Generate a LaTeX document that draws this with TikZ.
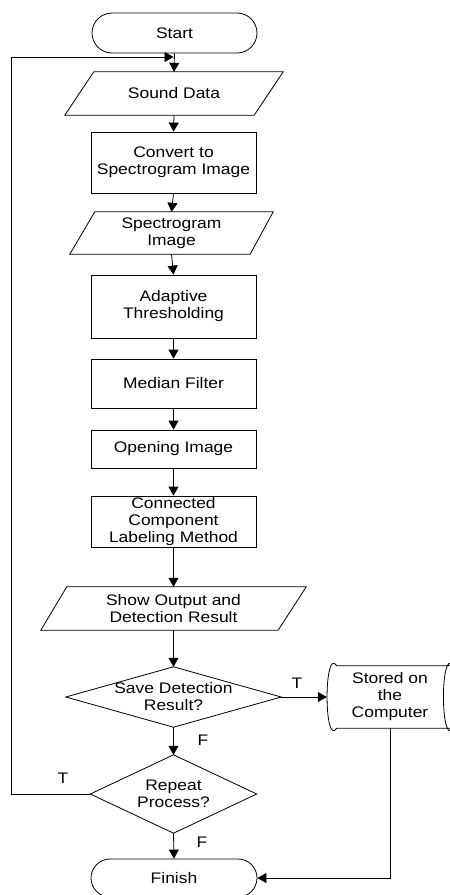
\documentclass[tikz,border=0pt]{standalone}
\usepackage{fontspec}
\setmainfont{Liberation Sans}[FakeStretch=1.14]
\usetikzlibrary{arrows.meta,shapes.misc}
\begin{document}
\begin{tikzpicture}[x=1pt,y=-1pt,
  font=\fontsize{15.3}{17}\selectfont,
  ln/.style={line width=0.8pt},
  arr/.style={ln,-{Triangle[length=9pt,width=10pt]}},
  procbox/.style={draw,ln,minimum width=165pt,inner sep=0pt,align=center},
  blank/.style={inner sep=0pt,align=center},
  term/.style={draw,ln,rounded rectangle,minimum width=165pt,inner sep=0pt,align=center},
  lbl/.style={inner sep=0pt}]
\useasboundingbox (0,0) rectangle (450,895);
\clip (0,0) rectangle (450,895);
\fill[white] (0,0) rectangle (450,895);

% nodes
\node[term,minimum height=40pt] (start) at (174.5,33) {Start};
\node[blank,minimum width=218pt,minimum height=43pt] (sound) at (174,93.5) {Sound Data};
\node[procbox,minimum height=61pt] (convert) at (173.5,162.5) {Convert to\\Spectrogram Image};
\node[blank,minimum width=203pt,minimum height=42pt] (spec) at (171.5,233) {Spectrogram\\Image};
\node[procbox,minimum height=63pt] (adapt) at (173.5,306.5) {Adaptive\\Thresholding};
\node[procbox,minimum height=49pt] (median) at (173.5,383.5) {Median Filter};
\node[procbox,minimum height=38pt] (open) at (173.5,449) {Opening Image};
\node[procbox,minimum height=51pt] (ccl) at (173.5,521.5) {Connected\\Component\\Labeling Method};
\node[blank,minimum width=265pt,minimum height=43pt] (show) at (173.5,608.5) {Show Output and\\Detection Result};
\node[blank,minimum width=215pt,minimum height=60pt] (save) at (173.5,697) {Save Detection\\Result?};
\node[blank,minimum width=166pt,minimum height=78pt] (repeat) at (173.5,794) {Repeat\\Process?};
\node[blank,minimum width=126pt,minimum height=62pt] (stored) at (390,697) {Stored on\\the\\Computer};
\node[term,minimum width=166pt,minimum height=38pt] (finish) at (174,878) {Finish};

% outlines
\draw[ln] ([xshift=29pt]sound.north west) -- (sound.north east) -- ([xshift=-29pt]sound.south east) -- (sound.south west) -- cycle;
\draw[ln] ([xshift=25pt]spec.north west) -- (spec.north east) -- ([xshift=-23pt]spec.south east) -- (spec.south west) -- cycle;
\draw[ln] ([xshift=26pt]show.north west) -- (show.north east) -- ([xshift=-28pt]show.south east) -- (show.south west) -- cycle;
\draw[ln] (save.north) -- (save.east) -- (save.south) -- (save.west) -- cycle;
\draw[ln] (repeat.north) -- (repeat.east) -- (repeat.south) -- (repeat.west) -- cycle;
\draw[ln] ([xshift=10pt]stored.north west) -- (stored.north east)
  .. controls ([xshift=-13pt,yshift=20pt]stored.north east) and ([xshift=-13pt,yshift=-20pt]stored.south east) .. (stored.south east)
  -- ([xshift=10pt]stored.south west)
  .. controls ([xshift=-3pt,yshift=-20pt]stored.south west) and ([xshift=-3pt,yshift=20pt]stored.north west) .. ([xshift=10pt]stored.north west);

% connectors
\coordinate (loopin) at (173.5,57);
\coordinate (loopcorner) at (11,57);
\draw[arr] (start.south) -- (sound.north);
\draw[arr] (sound.south) -- (convert.north);
\draw[arr] (convert.south) -- (spec.north);
\draw[arr] (spec.south) -- (adapt.north);
\draw[arr] (adapt.south) -- (median.north);
\draw[arr] (median.south) -- (open.north);
\draw[arr] (open.south) -- (ccl.north);
\draw[arr] (ccl.south) -- (show.north);
\draw[arr] (show.south) -- (save.north);
\draw[arr] (save.south) -- (repeat.north);
\draw[arr] (repeat.south) -- (finish.north);
\draw[arr] (save.east) -- (stored.west);
\draw[arr] (stored.south) |- (finish.east);
\draw[arr] (repeat.west) -| (loopcorner) -- (loopin);

% labels
\node[lbl] (t1) at (297,683) {T};
\node[lbl] (t2) at (63,778) {T};
\node[lbl] (f1) at (203,740) {F};
\node[lbl] (f2) at (202,842) {F};
\end{tikzpicture}
\end{document}
